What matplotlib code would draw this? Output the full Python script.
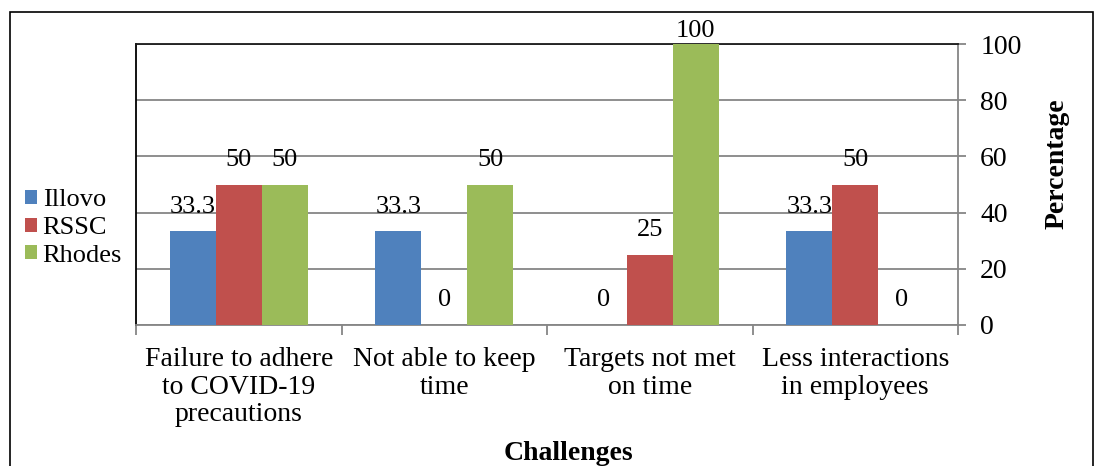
import numpy as np
import matplotlib.pyplot as plt
from matplotlib.patches import Rectangle

plt.rcParams['font.family'] = ['Liberation Serif', 'DejaVu Serif']

# challenges faced, % of respondents per estate
categories = ['Failure to adhere\nto COVID-19\nprecautions', 'Not able to keep\ntime',
              'Targets not met\non time', 'Less interactions\nin employees']
illovo = [33.3, 33.3, 0, 33.3]
rssc = [50, 0, 25, 50]
rhodes = [50, 50, 100, 0]
series = ['Illovo', 'RSSC', 'Rhodes']
colors = ['#4F81BD', '#C0504D', '#9BBB59']

W, H = 1094, 466
fig = plt.figure(figsize=(W / 100, H / 100), dpi=100)
ax = fig.add_axes([136 / W, 1 - 325 / H, (958 - 136) / W, (325 - 44) / H])

# outer frame of the chart
fig.patches.append(Rectangle((9.5 / W, -0.1), (1093 - 9.5) / W, 1.1 - 12 / H,
                             transform=fig.transFigure, fill=False,
                             edgecolor='#000000', linewidth=1.2))

x = np.arange(len(categories))
bw = 0.224
fs = 20
for i, (vals, name, c) in enumerate(zip([illovo, rssc, rhodes], series, colors)):
    bars = ax.bar(x + (i - 1) * bw, vals, bw, color=c, label=name, zorder=3)
    for b, v in zip(bars, vals):
        # labels sit above the bar, pushed down when they would leave the frame
        off = 10 if v < 95 else 1.5
        ax.annotate('{:g}'.format(v), (b.get_x() + b.get_width() / 2, v),
                    xytext=(0, off), textcoords='offset points', ha='center',
                    va='bottom', fontsize=19, annotation_clip=False, zorder=4)

ax.set_xlim(-0.5, 3.5)
ax.set_ylim(0, 100)
ax.set_yticks(range(0, 101, 20))
ax.yaxis.tick_right()
ax.yaxis.grid(True, color='#868686', linewidth=1.3, zorder=0)
ax.tick_params(axis='y', direction='out', length=6, width=1.3, color='#868686',
               labelsize=fs, pad=10)

ax.set_xticks(np.arange(-0.5, 4, 1))
ax.set_xticklabels([])
ax.set_xticks(x, minor=True)
ax.set_xticklabels(categories, minor=True, fontsize=fs, linespacing=1.12)
ax.tick_params(axis='x', which='major', direction='out', length=7, width=1.3,
               color='#868686')
ax.tick_params(axis='x', which='minor', length=0, pad=16)

ax.spines['left'].set_color('#000000')
ax.spines['top'].set_color('#1a1a1a')
ax.spines['right'].set_color('#868686')
ax.spines['bottom'].set_color('#868686')
for s in ax.spines.values():
    s.set_linewidth(1.3)

fig.text(1057 / W, 1 - 164 / H, 'Percentage', rotation=90, ha='center', va='center',
         fontsize=fs, fontweight='bold')
fig.text(568 / W, 1 - 454 / H, 'Challenges', ha='center', va='center',
         fontsize=fs, fontweight='bold')

ax.legend(loc='center left', bbox_to_anchor=(17 / W, 1 - 228 / H),
          bbox_transform=fig.transFigure, frameon=False, fontsize=19,
          handlelength=0.45, handleheight=0.45, handletextpad=0.22,
          labelspacing=0.22, borderaxespad=0, borderpad=0.3)

fig.savefig('out.png', dpi=100)
